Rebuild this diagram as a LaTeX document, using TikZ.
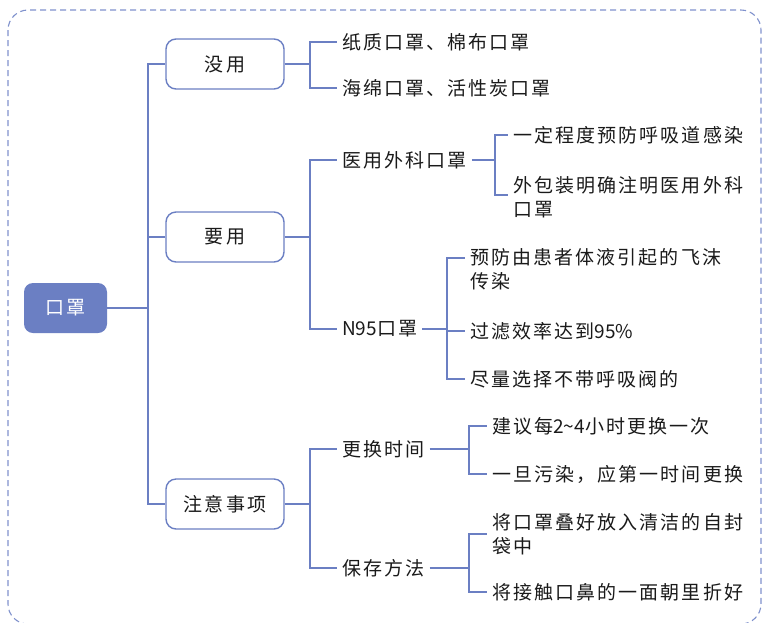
\documentclass[tikz,border=0pt]{standalone}
\usepackage{fontspec}
\usepackage{tikz}
\usetikzlibrary{positioning}
\usetikzlibrary{calc}

\newfontfamily\cjk[LetterSpace=11]{Noto Sans CJK SC}
\newfontfamily\latn{Noto Sans CJK SC}

\definecolor{mapblue}{HTML}{6B7FC3}
\definecolor{framblue}{HTML}{7F91CC}
\definecolor{inkgrey}{HTML}{1A1A1A}

\tikzset{
	mapfont/.style={font=\cjk\fontsize{19}{24}\selectfont},
	rootbox/.style={mapfont, fill=mapblue, text=white, rounded corners=9pt,
		minimum width=83pt, minimum height=50pt, inner sep=0pt},
	topicbox/.style={mapfont, draw=mapblue, line width=1.4pt, fill=white, text=inkgrey,
		rounded corners=10pt, minimum width=118pt, minimum height=50pt, inner sep=0pt},
	leaf/.style={mapfont, text=inkgrey, anchor=west, align=left,
		inner xsep=5pt, inner ysep=0pt},
	branch/.style={draw=mapblue, line width=1.4pt},
}

\begin{document}
\begin{tikzpicture}[x=1pt, y=-1pt]
	
	% ------------------------------------------------
	% Keep the size of the screenshot
	\useasboundingbox (0,0) rectangle (762,622);
	
	% Dashed frame, cut at the right and bottom
	\draw[framblue, line width=1.1pt, dash pattern=on 6pt off 4pt, rounded corners=20pt]
		(8,10) rectangle (761,624);
	
	% ------------------------------------------------
	% Root and main topics
	\node[rootbox] (mask) at (65.5,308) {口罩};
	
	\node[topicbox] (useless) at (225,64)  {没用};
	\node[topicbox] (useful)  at (225,237) {要用};
	\node[topicbox] (notes)   at (225,504) {注意事项};
	
	% ------------------------------------------------
	% Second level
	\node[leaf] (paper)    at (337,42)  {纸质口罩、棉布口罩};
	\node[leaf] (sponge)   at (337,88)  {海绵口罩、活性炭口罩};
	\node[leaf] (surgical) at (337,160) {医用外科口罩};
	\node[leaf] (nfive)    at (337,329) {{\latn N95}口罩};
	\node[leaf] (replace)  at (337,449) {更换时间};
	\node[leaf] (store)    at (337,568) {保存方法};
	
	% ------------------------------------------------
	% Third level
	\node[leaf] (airway)  at (508,135) {一定程度预防呼吸道感染};
	\node[leaf] (package) at (508,197) {外包装明确注明医用外科\\口罩};
	
	\node[leaf] (droplet) at (465,269) {预防由患者体液引起的飞沫\\传染};
	\node[leaf] (filter)  at (465,331) {过滤效率达到{\latn 95\%}};
	\node[leaf] (valve)   at (465,379) {尽量选择不带呼吸阀的};
	
	\node[leaf] (hours)   at (487,426) {建议每{\latn 2\textasciitilde4}小时更换一次};
	\node[leaf] (dirty)   at (487,474) {一旦污染，应第一时间更换};
	
	\node[leaf] (bag)     at (487,534) {将口罩叠好放入清洁的自封\\袋中};
	\node[leaf] (fold)    at (487,592) {将接触口鼻的一面朝里折好};
	
	% ------------------------------------------------
	% Fork points
	\coordinate (rootfork)     at (148,308);
	\coordinate (uselessfork)  at (310,64);
	\coordinate (usefulfork)   at (310,237);
	\coordinate (notesfork)    at (310,504);
	\coordinate (surgicalfork) at (495,160);
	\coordinate (nfivefork)    at (447,329);
	\coordinate (replacefork)  at (469,449);
	\coordinate (storefork)    at (469,568);
	
	%%%%%%%%%%%%%%%%%%%%%%%%%%%%%%%%%%%%%%%%%
	% Connectors
	\draw[branch] (mask.east) -- (rootfork);
	\draw[branch] (rootfork) |- (useless.west);
	\draw[branch] (rootfork) |- (useful.west);
	\draw[branch] (rootfork) |- (notes.west);
	
	\draw[branch] (useless.east) -- (uselessfork);
	\draw[branch] (uselessfork) |- (paper.west);
	\draw[branch] (uselessfork) |- (sponge.west);
	
	\draw[branch] (useful.east) -- (usefulfork);
	\draw[branch] (usefulfork) |- (surgical.west);
	\draw[branch] (usefulfork) |- (nfive.west);
	
	\draw[branch] (notes.east) -- (notesfork);
	\draw[branch] (notesfork) |- (replace.west);
	\draw[branch] (notesfork) |- (store.west);
	
	\draw[branch] (surgical.east) -- (surgicalfork);
	\draw[branch] (surgicalfork) |- (airway.west);
	\draw[branch] (surgicalfork) |- ([yshift=2pt]package.west);
	
	\draw[branch] (nfive.east) -- (nfivefork);
	\draw[branch] (nfivefork) |- ([yshift=11pt]droplet.west);
	\draw[branch] (nfivefork) |- (filter.west);
	\draw[branch] (nfivefork) |- (valve.west);
	
	\draw[branch] (replace.east) -- (replacefork);
	\draw[branch] (replacefork) |- (hours.west);
	\draw[branch] (replacefork) |- (dirty.west);
	
	\draw[branch] (store.east) -- (storefork);
	\draw[branch] (storefork) |- (bag.west);
	\draw[branch] (storefork) |- (fold.west);
	
\end{tikzpicture}
\end{document}
